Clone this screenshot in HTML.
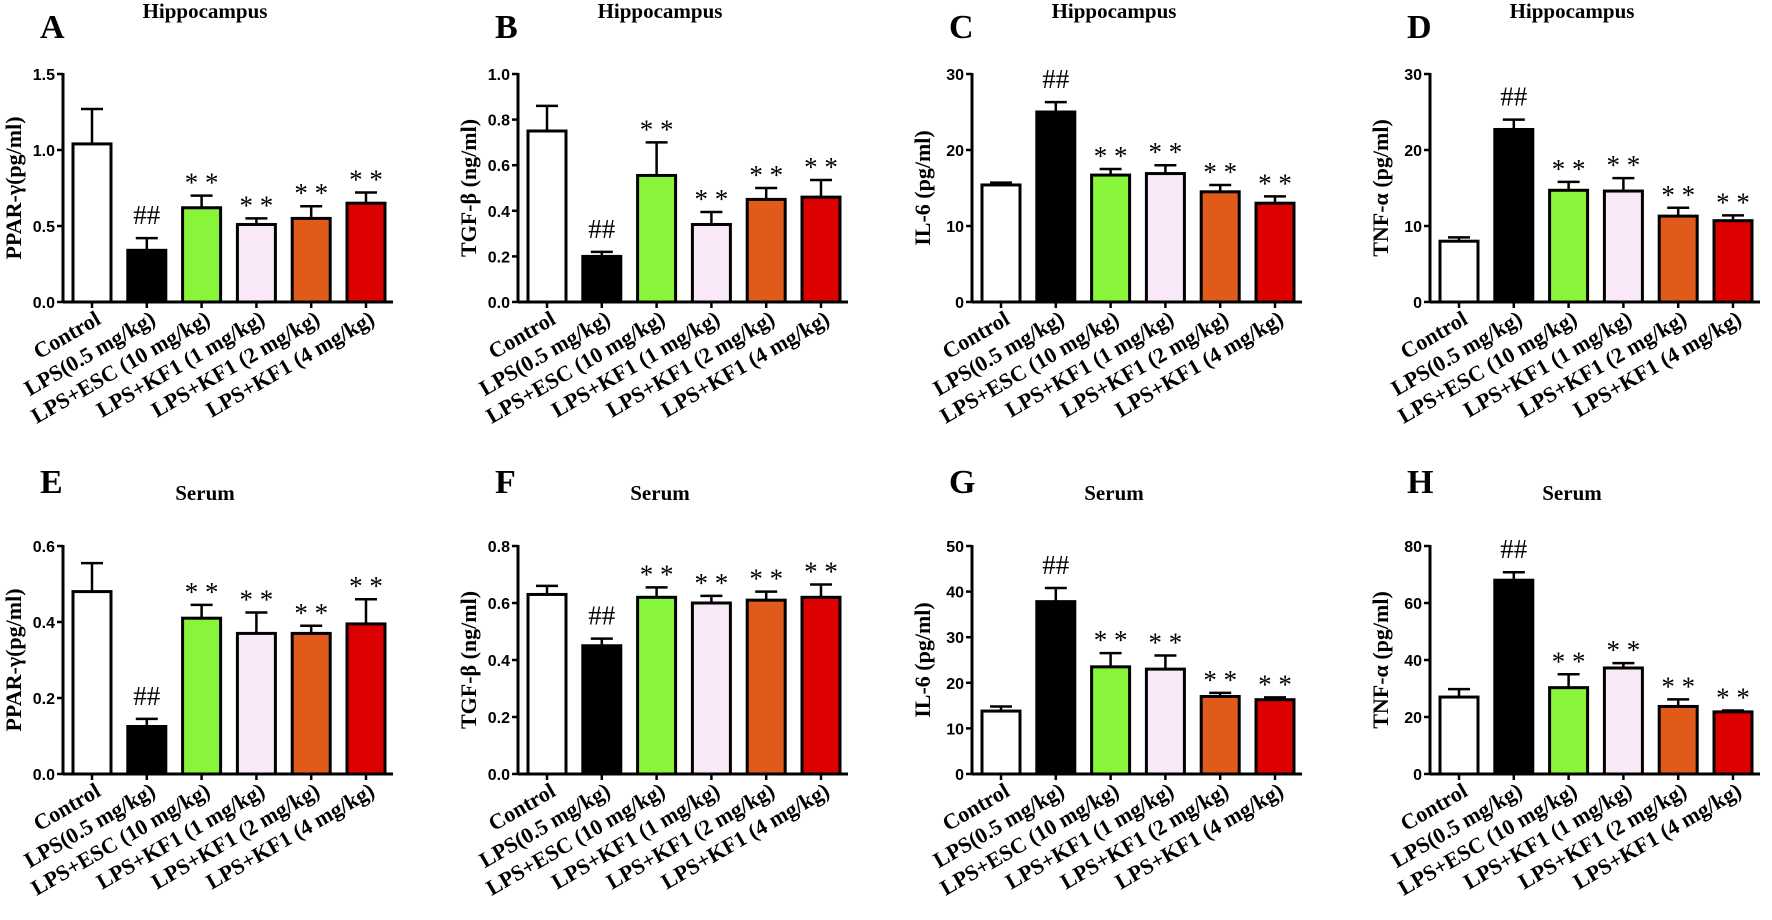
<!DOCTYPE html>
<html><head><meta charset="utf-8"><style>
body{margin:0;background:#fff;width:1772px;height:920px;overflow:hidden}
svg{display:block}
.tk{font-family:"Liberation Sans",Arial,sans-serif;font-weight:bold;font-size:16px}
.sf{font-family:"Liberation Serif","Times New Roman",serif;font-weight:bold}
.nf{font-family:"Liberation Serif","Times New Roman",serif}
</style></head><body>
<svg id="s" width="1772" height="920" xmlns="http://www.w3.org/2000/svg"></svg>
<script>
const cols=["#ffffff","#000000","#88f53a","#f8e8f8","#e05a1a","#dd0000"];
const cats=["Control","LPS(0.5 mg/kg)","LPS+ESC (10 mg/kg)","LPS+KF1 (1 mg/kg)","LPS+KF1 (2 mg/kg)","LPS+KF1 (4 mg/kg)"];
const P=[
{L:"A",t:"Hippocampus",y:"PPAR-γ(pg/ml)",max:1.5,ticks:["0.0","0.5","1.0","1.5"],v:[1.04,.34,.62,.51,.55,.65],e:[.23,.08,.08,.04,.08,.07]},
{L:"B",t:"Hippocampus",y:"TGF-β (ng/ml)",max:1.0,ticks:["0.0","0.2","0.4","0.6","0.8","1.0"],v:[.75,.2,.555,.34,.45,.46],e:[.11,.02,.145,.055,.05,.075]},
{L:"C",t:"Hippocampus",y:"IL-6 (pg/ml)",max:30,ticks:["0","10","20","30"],v:[15.4,25,16.7,16.9,14.5,13],e:[.3,1.3,.8,1.1,.9,.9]},
{L:"D",t:"Hippocampus",y:"TNF-α (pg/ml)",max:30,ticks:["0","10","20","30"],v:[8,22.7,14.7,14.6,11.3,10.7],e:[.5,1.3,1.1,1.7,1.1,.7]},
{L:"E",t:"Serum",y:"PPAR-γ(pg/ml)",max:.6,ticks:["0.0","0.2","0.4","0.6"],v:[.48,.125,.41,.37,.37,.395],e:[.075,.02,.035,.055,.02,.065]},
{L:"F",t:"Serum",y:"TGF-β (ng/ml)",max:.8,ticks:["0.0","0.2","0.4","0.6","0.8"],v:[.63,.45,.62,.6,.61,.62],e:[.03,.025,.035,.025,.03,.045]},
{L:"G",t:"Serum",y:"IL-6 (pg/ml)",max:50,ticks:["0","10","20","30","40","50"],v:[13.8,37.8,23.5,23,17,16.3],e:[1,3,3,3,.8,.5]},
{L:"H",t:"Serum",y:"TNF-α (pg/ml)",max:80,ticks:["0","20","40","60","80"],v:[27,68,30.3,37.2,23.7,21.8],e:[2.8,2.8,4.7,1.7,2.5,.5]}];
const colX=[0,455,909,1367];
let h="";
P.forEach((p,i)=>{
 const r=Math.floor(i/4),c=i%4,ox=colX[c],oy=r*472;
 const ax=ox+63,top=oy+74,zero=oy+302,H=zero-top;
 const Y=v=>zero-v/p.max*H;
 h+=`<text class="sf" x="${ox+40}" y="${r?493:38}" font-size="34">${p.L}</text>`;
 h+=`<text class="sf" x="${ox+205}" y="${r?500:18}" font-size="21" text-anchor="middle">${p.t}</text>`;
 h+=`<text class="sf" font-size="22" text-anchor="middle" transform="translate(${ox+21},${(top+zero)/2}) rotate(-90)">${p.y}</text>`;
 p.ticks.forEach((t,k)=>{const yy=zero-k/(p.ticks.length-1)*H;
  h+=`<line x1="${ax-6}" x2="${ax}" y1="${yy}" y2="${yy}" stroke="#000" stroke-width="2.5"/><text class="tk" x="${ax-8}" y="${yy+6}" text-anchor="end">${t}</text>`;});
 p.v.forEach((v,k)=>{const bx=ax+10+k*54.8,cx=bx+19,yt=Y(v),ye=Y(v+p.e[k]);
  h+=`<line x1="${cx}" x2="${cx}" y1="${yt}" y2="${ye}" stroke="#000" stroke-width="2.5"/><line x1="${cx-11}" x2="${cx+11}" y1="${ye}" y2="${ye}" stroke="#000" stroke-width="2.5"/>`;
  h+=`<rect x="${bx}" y="${yt}" width="38" height="${zero-yt}" fill="${cols[k]}" stroke="#000" stroke-width="3"/>`;
  h+=`<line x1="${cx}" x2="${cx}" y1="${zero}" y2="${zero+6}" stroke="#000" stroke-width="2.5"/>`;
  if(k>0){const s=k==1?"##":"* *";h+=`<text class="nf" x="${cx}" y="${ye-(k==1?14:4)}" font-size="27" text-anchor="middle">${s}</text>`;}
  h+=`<text class="sf" font-size="22" text-anchor="end" transform="translate(${cx+10},${zero+21}) rotate(-30)">${cats[k]}</text>`;});
 h+=`<line x1="${ax}" x2="${ax}" y1="${top-1}" y2="${zero}" stroke="#000" stroke-width="3"/><line x1="${ax}" x2="${ax+330}" y1="${zero}" y2="${zero}" stroke="#000" stroke-width="3"/>`;
});
document.getElementById("s").innerHTML=h;
</script>
</body></html>
